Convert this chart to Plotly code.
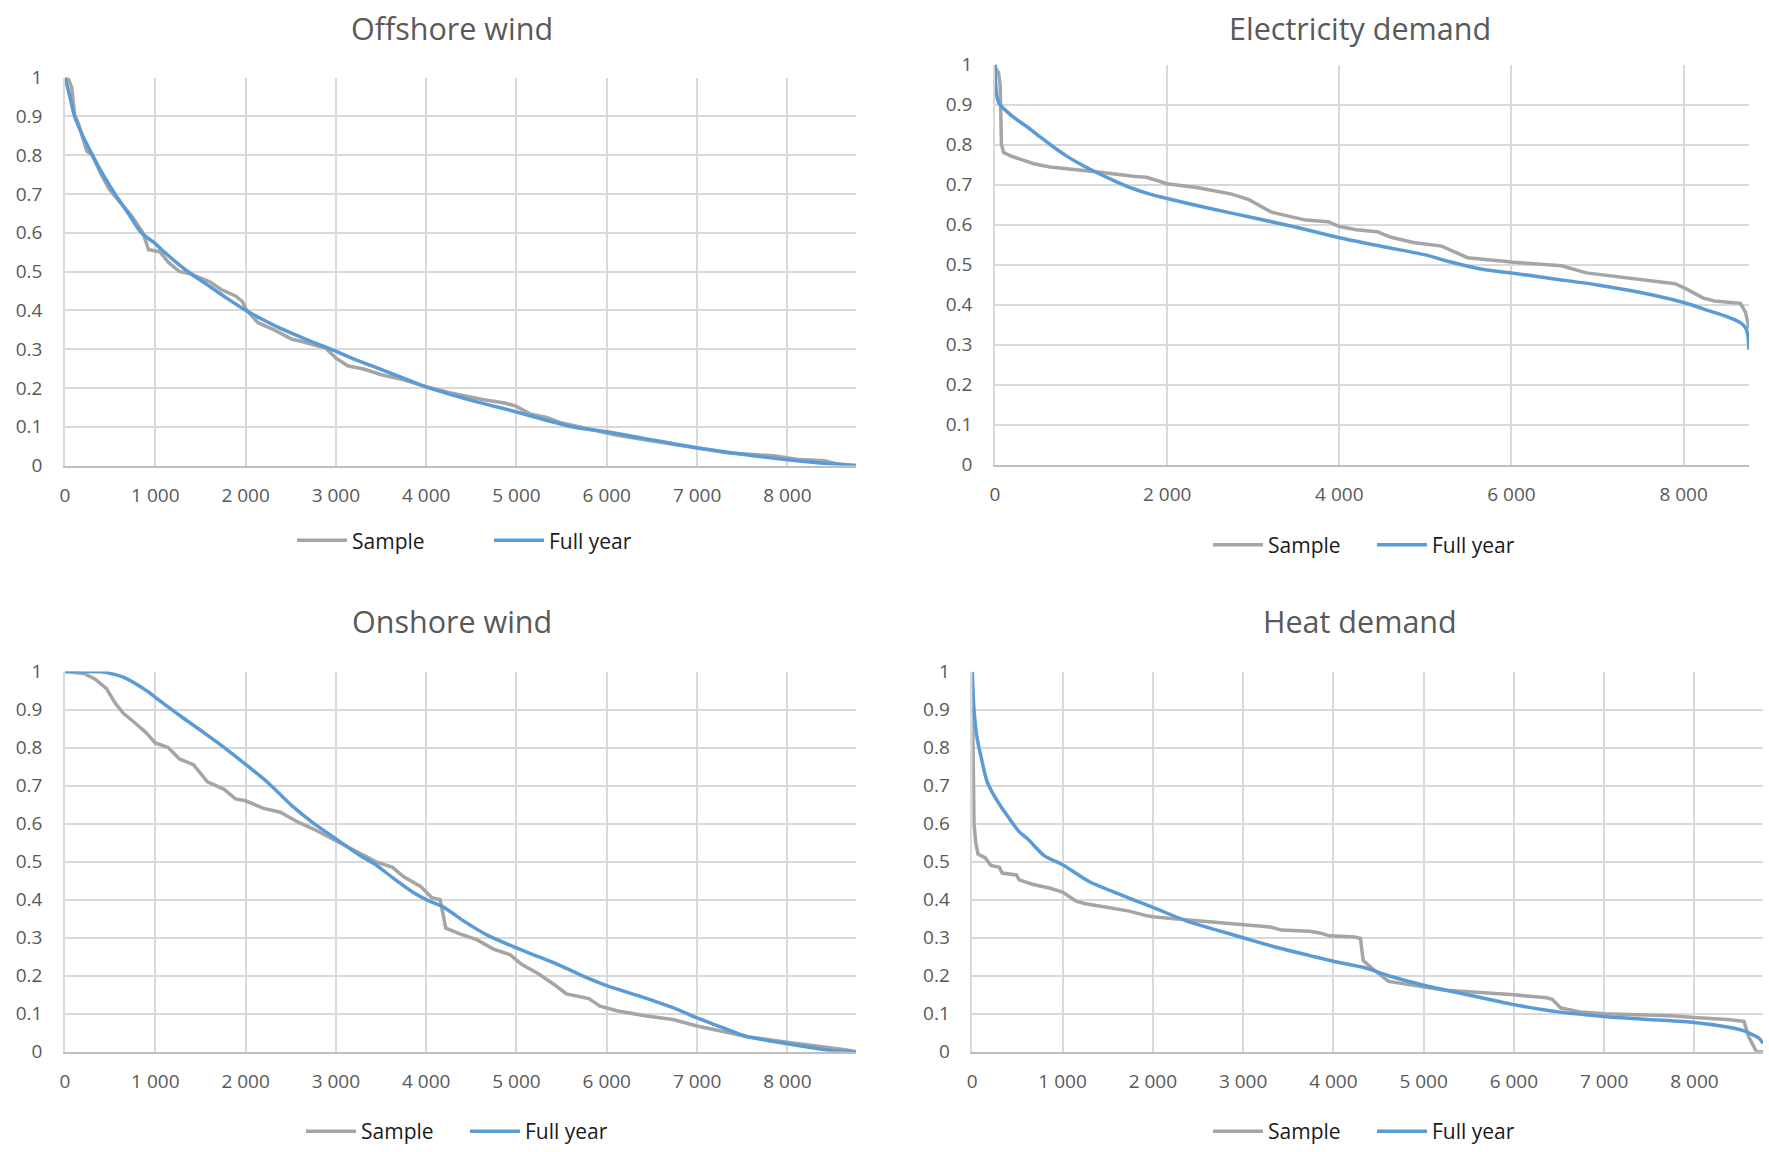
import plotly.graph_objects as go

# ---------------- data ----------------
hours_ticks_1000 = [0, 1000, 2000, 3000, 4000, 5000, 6000, 7000, 8000]
hours_labels_1000 = ["0", "1 000", "2 000", "3 000", "4 000", "5 000", "6 000", "7 000", "8 000"]
hours_ticks_2000 = [0, 2000, 4000, 6000, 8000]
hours_labels_2000 = ["0", "2 000", "4 000", "6 000", "8 000"]
y_ticks = [0, 0.1, 0.2, 0.3, 0.4, 0.5, 0.6, 0.7, 0.8, 0.9, 1.0]
y_labels = ["0", "0.1", "0.2", "0.3", "0.4", "0.5", "0.6", "0.7", "0.8", "0.9", "1"]

titles = ["Offshore wind", "Electricity demand", "Onshore wind", "Heat demand"]
series_names = ["Sample", "Full year"]

# Offshore wind
offshore_sample_x = [0, 40, 75, 106, 150, 210, 242, 300, 400, 490, 584, 739, 863, 925, 1050, 1143, 1267, 1391,
                     1609, 1733, 1888, 1963, 2012, 2137, 2323, 2509, 2665, 2882, 3006, 3130, 3317, 3503, 3752,
                     3938, 4248, 4621, 4870, 4994, 5149, 5335, 5491, 6112, 6733, 7354, 7851, 8099, 8410, 8534, 8720, 8760]
offshore_sample_y = [1.0, 0.995, 0.974, 0.905, 0.88, 0.836, 0.81, 0.80, 0.75, 0.712, 0.685, 0.643, 0.60, 0.556,
                     0.551, 0.524, 0.50, 0.494, 0.473, 0.453, 0.437, 0.423, 0.40, 0.368, 0.349, 0.326, 0.317,
                     0.303, 0.276, 0.257, 0.248, 0.234, 0.221, 0.207, 0.188, 0.17, 0.161, 0.153, 0.133, 0.124,
                     0.11, 0.078, 0.055, 0.032, 0.025, 0.016, 0.012, 0.005, 0.0, 0.0]
offshore_full_x = [0, 50, 106, 200, 304, 420, 553, 700, 845, 1000, 1100, 1360, 1600, 1800, 2000, 2200, 2400,
                   2600, 2800, 2944, 3200, 3500, 4031, 4500, 5000, 5615, 6000, 6500, 7000, 7500, 8000, 8500, 8760]
offshore_full_y = [1.0, 0.955, 0.90, 0.848, 0.80, 0.75, 0.70, 0.65, 0.60, 0.572, 0.55, 0.50, 0.462, 0.43, 0.40,
                   0.375, 0.352, 0.332, 0.313, 0.30, 0.274, 0.248, 0.20, 0.168, 0.138, 0.10, 0.087, 0.066,
                   0.046, 0.029, 0.015, 0.004, 0.0]

# Electricity demand
elec_sample_x = [0, 10, 40, 60, 75, 100, 200, 350, 450, 640, 970, 1170, 1630, 1760, 2000, 2360, 2750, 2950,
                 3210, 3540, 3610, 3870, 4000, 4200, 4440, 4600, 4860, 5190, 5490, 6000, 6580, 6870, 7240,
                 7900, 8030, 8230, 8360, 8660, 8720, 8760]
elec_sample_y = [1.0, 0.99, 0.98, 0.95, 0.80, 0.78, 0.77, 0.76, 0.752, 0.744, 0.737, 0.732, 0.72, 0.718, 0.702,
                 0.692, 0.676, 0.662, 0.631, 0.616, 0.611, 0.607, 0.595, 0.587, 0.582, 0.568, 0.555, 0.546,
                 0.517, 0.506, 0.497, 0.479, 0.47, 0.452, 0.439, 0.416, 0.409, 0.403, 0.38, 0.34]
elec_full_x = [0, 5, 10, 20, 40, 70, 120, 200, 300, 368, 500, 640, 833, 1000, 1200, 1400, 1600, 1800, 2000,
               2500, 3000, 3500, 4000, 4500, 5000, 5260, 5660, 6000, 6500, 7000, 7500, 8000, 8300, 8500, 8650,
               8720, 8745, 8760]
elec_full_y = [1.0, 0.965, 0.945, 0.922, 0.906, 0.896, 0.886, 0.871, 0.855, 0.845, 0.823, 0.80, 0.771, 0.75,
               0.728, 0.708, 0.69, 0.676, 0.665, 0.64, 0.617, 0.593, 0.567, 0.545, 0.524, 0.508, 0.488, 0.479,
               0.464, 0.449, 0.43, 0.405, 0.384, 0.37, 0.356, 0.342, 0.325, 0.287]

# Onshore wind
onshore_sample_x = [0, 211, 335, 460, 553, 646, 770, 894, 1000, 1143, 1267, 1422, 1578, 1764, 1888, 2000,
                    2199, 2385, 2571, 2758, 3000, 3193, 3441, 3627, 3752, 3938, 4062, 4155, 4217, 4373, 4559,
                    4745, 4932, 5056, 5242, 5429, 5553, 5801, 5925, 6112, 6422, 6733, 7000, 7354, 7540, 8000,
                    8472, 8658, 8760]
onshore_sample_y = [1.0, 0.995, 0.98, 0.955, 0.918, 0.89, 0.866, 0.84, 0.812, 0.80, 0.77, 0.755, 0.71, 0.69,
                    0.665, 0.66, 0.64, 0.63, 0.605, 0.585, 0.555, 0.53, 0.50, 0.485, 0.46, 0.435, 0.405, 0.40,
                    0.325, 0.31, 0.295, 0.27, 0.255, 0.23, 0.205, 0.175, 0.152, 0.14, 0.12, 0.108, 0.095,
                    0.085, 0.068, 0.05, 0.04, 0.025, 0.012, 0.005, 0.0]
onshore_full_x = [0, 200, 400, 500, 646, 894, 1000, 1267, 1516, 1764, 2000, 2260, 2509, 2758, 3000, 3255,
                  3441, 3627, 3876, 4000, 4186, 4435, 4683, 5000, 5242, 5491, 5739, 6000, 6422, 6733, 7000,
                  7354, 7540, 8000, 8348, 8534, 8760]
onshore_full_y = [1.0, 1.0, 0.999, 0.995, 0.985, 0.951, 0.932, 0.885, 0.843, 0.80, 0.756, 0.705, 0.648,
                  0.600, 0.56, 0.518, 0.492, 0.458, 0.416, 0.40, 0.381, 0.341, 0.306, 0.273, 0.25, 0.226,
                  0.199, 0.174, 0.142, 0.116, 0.089, 0.057, 0.041, 0.021, 0.008, 0.002, 0.0]

# Heat demand
heat_sample_x = [0, 6, 19, 38, 63, 144, 206, 300, 331, 488, 519, 675, 863, 1000, 1144, 1238, 1488, 1738, 1925,
                 2000, 2238, 2738, 3000, 3300, 3425, 3738, 3863, 3956, 4238, 4300, 4331, 4425, 4613, 5000, 5238,
                 5550, 6000, 6363, 6425, 6519, 6738, 7000, 7738, 8000, 8363, 8550, 8600, 8688, 8760]
heat_sample_y = [0.90, 0.85, 0.60, 0.55, 0.52, 0.51, 0.49, 0.485, 0.47, 0.465, 0.452, 0.44, 0.43, 0.42, 0.397,
                 0.39, 0.38, 0.37, 0.358, 0.355, 0.35, 0.34, 0.333, 0.328, 0.32, 0.317, 0.312, 0.305, 0.302,
                 0.298, 0.24, 0.22, 0.185, 0.17, 0.162, 0.157, 0.15, 0.142, 0.138, 0.115, 0.105, 0.10, 0.095,
                 0.09, 0.085, 0.08, 0.04, 0.0, 0.0]
heat_full_x = [0, 19, 50, 100, 163, 238, 363, 519, 613, 800, 1000, 1300, 1675, 2000, 2363, 2738, 3000, 3363,
               3738, 4000, 4363, 4613, 5000, 5488, 6000, 6488, 7000, 7488, 8000, 8363, 8550, 8644, 8720, 8760]
heat_full_y = [1.0, 0.90, 0.83, 0.772, 0.711, 0.675, 0.629, 0.579, 0.56, 0.515, 0.492, 0.447, 0.41, 0.38,
               0.345, 0.318, 0.30, 0.275, 0.253, 0.238, 0.22, 0.20, 0.175, 0.15, 0.124, 0.105, 0.093, 0.085,
               0.077, 0.065, 0.055, 0.045, 0.035, 0.022]

# ---------------- figure ----------------
W, H = 1769, 1152
GRAY = "#A5A5A5"
BLUE = "#5B9BD5"
TXT = "#595959"
FONT = "Open Sans"

def px_x(v):
    return v / W

def px_y(v):
    return 1 - v / H

# plot-area pixel boxes (left, right, top, bottom)
boxes = [
    (65, 856, 77.5, 465.5),
    (995, 1749, 64.5, 464.5),
    (65, 856, 671.5, 1051.8),
    (972.3, 1763, 671.5, 1051.8),
]
title_pos = [(452, 28), (1360, 28), (452, 621), (1360, 621)]
legend_pos = [(292, 540.7, 132), (1208, 545, 99), (301, 1131.6, 99), (1208, 1131.6, 99)]

data = [
    (offshore_sample_x, offshore_sample_y, offshore_full_x, offshore_full_y, hours_ticks_1000, hours_labels_1000),
    (elec_sample_x, elec_sample_y, elec_full_x, elec_full_y, hours_ticks_2000, hours_labels_2000),
    (onshore_sample_x, onshore_sample_y, onshore_full_x, onshore_full_y, hours_ticks_1000, hours_labels_1000),
    (heat_sample_x, heat_sample_y, heat_full_x, heat_full_y, hours_ticks_1000, hours_labels_1000),
]

fig = go.Figure()
layout = dict(
    width=W, height=H,
    margin=dict(l=0, r=0, t=0, b=0, autoexpand=False),
    paper_bgcolor="white", plot_bgcolor="white",
    font=dict(family=FONT, size=19, color=TXT),
    annotations=[],
)

for i, (sx, sy, fx, fy, xt, xl) in enumerate(data):
    n = "" if i == 0 else str(i + 1)
    leg = "legend" + n
    fig.add_trace(go.Scatter(x=sx, y=sy, mode="lines", name=series_names[0],
                             line=dict(color=GRAY, width=3.5), xaxis="x" + n, yaxis="y" + n,
                             legend=leg, hoverinfo="skip"))
    fig.add_trace(go.Scatter(x=fx, y=fy, mode="lines", name=series_names[1],
                             line=dict(color=BLUE, width=3.5, shape="spline", smoothing=0.8),
                             xaxis="x" + n, yaxis="y" + n, legend=leg, hoverinfo="skip"))
    l, r, t, b = boxes[i]
    layout["xaxis" + n] = dict(
        domain=[px_x(l), px_x(r)], range=[0, 8760], anchor="y" + n, automargin=False,
        tickvals=xt, ticktext=xl, showgrid=True, gridcolor="#D9D9D9", gridwidth=1.5,
        showline=True, linecolor="#BFBFBF", linewidth=1.5, zeroline=False,
        ticks="outside", ticklen=12, tickcolor="rgba(0,0,0,0)",
        tickfont=dict(family=FONT, size=19, color=TXT),
    )
    layout["yaxis" + n] = dict(
        domain=[px_y(b), px_y(t)], range=[0, 1], anchor="x" + n, automargin=False,
        tickvals=y_ticks, ticktext=y_labels, showgrid=True, gridcolor="#D9D9D9", gridwidth=1.5,
        showline=True, linecolor="#D9D9D9", linewidth=1.5, zeroline=False,
        ticks="outside", ticklen=17, tickcolor="rgba(0,0,0,0)",
        tickfont=dict(family=FONT, size=19, color=TXT),
    )
    tx, ty = title_pos[i]
    layout["annotations"].append(dict(
        text=titles[i], x=px_x(tx), y=px_y(ty), xref="paper", yref="paper",
        xanchor="center", yanchor="middle", showarrow=False,
        font=dict(family=FONT, size=30.5, color=TXT),
    ))
    lx, ly, ew = legend_pos[i]
    layout[leg] = dict(
        orientation="h", x=px_x(lx), y=px_y(ly), xanchor="left", yanchor="middle",
        xref="paper", yref="paper", itemwidth=50, entrywidth=ew, entrywidthmode="pixels",
        font=dict(family=FONT, size=21, color="#1A1A1A"), bgcolor="rgba(0,0,0,0)",
        itemclick=False, itemdoubleclick=False,
    )

fig.update_layout(**layout)
fig.write_html("out.html")
